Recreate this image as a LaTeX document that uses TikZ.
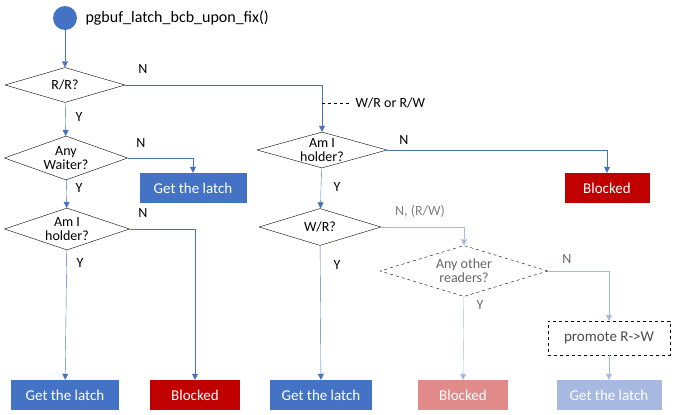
\documentclass[tikz,border=0pt]{standalone}
\usepackage{fontspec}
\setmainfont{Carlito}
\usetikzlibrary{shapes.geometric,arrows.meta}
\definecolor{bl}{HTML}{4472C4}
\definecolor{lb}{HTML}{A9B8DE}
\definecolor{dr}{HTML}{C00000}
\definecolor{fr}{HTML}{E08A8A}
\definecolor{fb}{HTML}{A7B9E1}
\begin{document}
\begin{tikzpicture}[x=1pt,y=-1pt,font=\fontsize{15}{17}\selectfont,
 dia/.style={diamond,draw=black,aspect=3.4,inner sep=0pt,align=center,font=\fontsize{14}{14}\selectfont},
 bx/.style={fill=#1,text=white,minimum height=30,align=center},
 ln/.style={draw=bl,-{Triangle[length=6,width=6]}},
 lf/.style={draw=lb,-{Triangle[length=6,width=6]}},
 lab/.style={font=\fontsize{14}{16}\selectfont}]
\useasboundingbox (0,0) rectangle (675,415);
\node[circle,fill=bl,minimum size=24] (st) at (65,18) {};
\node[anchor=west,font=\fontsize{16}{18}\selectfont] (t) at (82,18) {pgbuf\_latch\_bcb\_upon\_fix()};
\node[dia,minimum width=120,minimum height=35] (rr) at (65,85) {R/R?};
\node[dia,minimum width=122,minimum height=44] (aw) at (66,158) {Any\\Waiter?};
\node[dia,minimum width=125,minimum height=42] (ah) at (67,229) {Am I\\holder?};
\node[bx=bl,minimum width=107] (g1) at (193,188) {Get the latch};
\node[bx=bl,minimum width=108] (g2) at (65,395) {Get the latch};
\node[bx=dr,minimum width=90] (b1) at (195,395) {Blocked};
\node[dia,minimum width=130,minimum height=36] (ah2) at (322,150) {Am I\\holder?};
\node[bx=dr,minimum width=85] (b2) at (607,188) {Blocked};
\node[dia,minimum width=122,minimum height=37] (wr) at (320,227) {W/R?};
\node[dia,minimum width=168,minimum height=51,dashed,text=black!60] (ao) at (464,271) {Any other\\readers?};
\node[bx=bl,minimum width=102] (g3) at (321,395) {Get the latch};
\node[bx=fr,minimum width=90] (b3) at (463,395) {Blocked};
\node[draw,dashed,minimum width=122,minimum height=34,text=black!70] (pr) at (609,338) {promote R->W};
\node[bx=fb,minimum width=105] (g4) at (609,395) {Get the latch};
\draw[ln] (st) -- (rr);
\draw[ln] (rr) -- (aw);
\draw[ln] (aw) -- (ah);
\draw[ln] (ah) -- (g2);
\draw[ln] (aw.east) -| (g1);
\draw[ln] (ah.east) -| (b1);
\draw[ln] (rr.east) -| (ah2);
\draw[ln] (ah2.east) -| (b2);
\draw[ln] (ah2) -- (wr);
\draw[ln] (wr) -- (g3);
\draw[lf] (wr.east) -| (ao);
\draw[lf] (ao) -- (b3);
\draw[lf] (ao.east) -| (pr);
\draw[lf] (pr) -- (g4);
\coordinate (d1) at (322,103); \coordinate (d2) at (350,103);
\draw[dashed] (d1) -- (d2);
\node[lab,anchor=west] (wl) at (352,103) {W/R or R/W};
\node[lab] at (143,69) {N};
\node[lab] at (79,117) {Y};
\node[lab] at (141,143) {N};
\node[lab] at (79,188) {Y};
\node[lab] at (143,213) {N};
\node[lab] at (80,263) {Y};
\node[lab] at (404,140) {N};
\node[lab] at (337,187) {Y};
\node[lab,text=black!50] at (420,211) {N, (R/W)};
\node[lab] at (337,265) {Y};
\node[lab,text=black!60] at (567,259) {N};
\node[lab,text=black!60] at (480,305) {Y};
\end{tikzpicture}
\end{document}
